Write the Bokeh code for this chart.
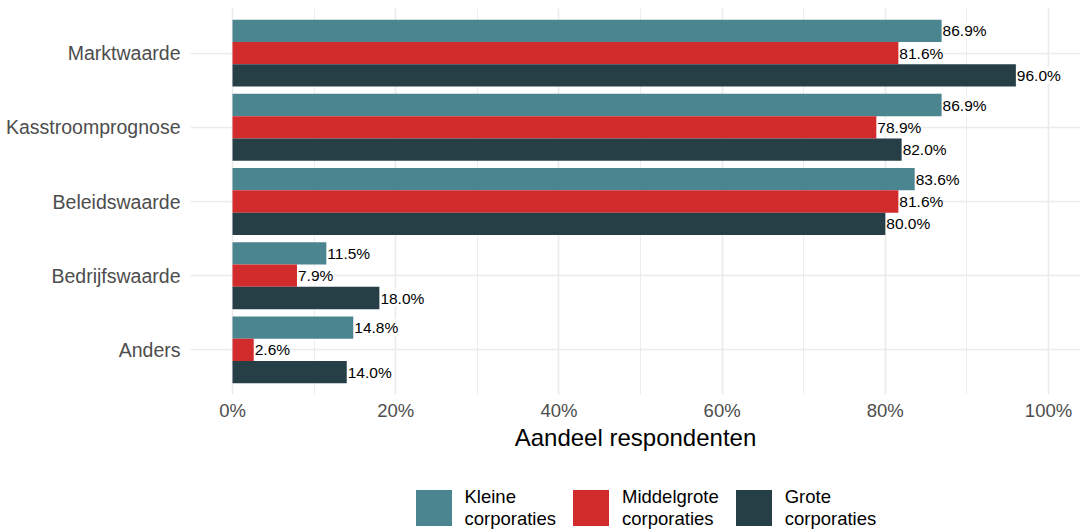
from bokeh.plotting import figure
from bokeh.layouts import column
from bokeh.models import (ColumnDataSource, FactorRange, Range1d, LabelSet, Legend, LegendItem,
                          SingleIntervalTicker, PrintfTickFormatter)
from bokeh.core.properties import value
from bokeh.transform import dodge
from bokeh.embed import file_html
from bokeh.resources import INLINE

categories = ["Marktwaarde", "Kasstroomprognose", "Beleidswaarde", "Bedrijfswaarde", "Anders"]
series = ["Kleine\ncorporaties", "Middelgrote\ncorporaties", "Grote\ncorporaties"]
kleine = [86.9, 86.9, 83.6, 11.5, 14.8]
middelgrote = [81.6, 78.9, 81.6, 7.9, 2.6]
grote = [96.0, 82.0, 80.0, 18.0, 14.0]
colors = ["#4B8590", "#D22B2B", "#263F47"]
x_title = "Aandeel respondenten"

FONT = "Liberation Sans"

p = figure(width=1080, height=470, output_backend="svg", toolbar_location=None,
           y_range=FactorRange(factors=list(reversed(categories)), range_padding=0.1,
                               range_padding_units="absolute"),
           x_range=Range1d(-5.147, 103.92),
           min_border_left=190, min_border_right=0, min_border_top=8, min_border_bottom=76)
p.outline_line_color = None

offsets = [0.3, 0.0, -0.3]
values = [kleine, middelgrote, grote]
for name, vals, col, off in zip(series, values, colors, offsets):
    src = ColumnDataSource(dict(cat=categories, val=vals,
                                lab=[f"{v:.1f}%" for v in vals]))
    p.hbar(y=dodge("cat", off, range=p.y_range), right="val", left=0, height=0.3,
           source=src, fill_color=col, line_color=None)
    lbl = LabelSet(x="val", y=dodge("cat", off, range=p.y_range), text="lab", source=src,
                   x_offset=1, text_baseline="middle", text_align="left",
                   text_font=value(FONT), text_font_size=value("15.5px"), text_color="black",
                   background_fill_color="white")
    p.add_layout(lbl)

# x axis
p.xaxis.ticker = SingleIntervalTicker(interval=20, num_minor_ticks=2)
p.xaxis.formatter = PrintfTickFormatter(format="%d%%")
p.xaxis.axis_label = x_title
p.xaxis.axis_label_text_font = FONT
p.xaxis.axis_label_text_font_size = "24px"
p.xaxis.axis_label_text_font_style = "normal"
p.xaxis.axis_label_text_color = "black"
p.xaxis.axis_label_standoff = 0
p.xaxis.major_label_text_font = FONT
p.xaxis.major_label_text_font_size = "18.5px"
p.xaxis.major_label_text_color = "#4d4d4d"
p.xaxis.major_label_standoff = 5
p.xaxis.axis_line_color = None
p.xaxis.major_tick_line_color = None
p.xaxis.minor_tick_line_color = None
p.xaxis.major_tick_out = 0
p.xaxis.minor_tick_out = 0

# y axis
p.yaxis.major_label_text_font = FONT
p.yaxis.major_label_text_font_size = "19.5px"
p.yaxis.major_label_text_color = "#4d4d4d"
p.yaxis.major_label_standoff = 10
p.yaxis.axis_line_color = None
p.yaxis.major_tick_line_color = None
p.yaxis.minor_tick_line_color = None
p.yaxis.major_tick_out = 0
p.yaxis.minor_tick_out = 0

# grid
p.xgrid.grid_line_color = "#EBEBEB"
p.xgrid.grid_line_width = 1.6
p.xgrid.minor_grid_line_color = "#EBEBEB"
p.xgrid.minor_grid_line_width = 0.9
p.ygrid.grid_line_color = "#EBEBEB"
p.ygrid.grid_line_width = 1.6

# legend strip below the chart (its frame is aligned with the chart frame by the column layout)
lg = figure(width=1080, height=62, output_backend="svg", toolbar_location=None,
            x_axis_type=None, y_axis_type=None, x_range=Range1d(0, 1), y_range=Range1d(0, 1),
            min_border=0)
lg.outline_line_color = None
lg.grid.visible = False
nan = float("nan")
items = []
for name, col in zip(series, colors):
    r = lg.hbar(y=[nan], right=[nan], left=0, height=0.3, fill_color=col, line_color=None)
    items.append(LegendItem(label=name, renderers=[r]))
legend = Legend(items=items, orientation="horizontal", location=(220.5, 2),
                glyph_width=45, glyph_height=45, label_standoff=9, spacing=12,
                label_text_font=FONT, label_text_font_size="18.5px",
                label_text_color="black", label_text_line_height=1.13,
                border_line_color=None, background_fill_alpha=0,
                padding=0, margin=0, label_width=10)
lg.add_layout(legend, "center")

layout = column(p, lg, spacing=0)
open("out.html", "w").write(file_html(layout, INLINE))
